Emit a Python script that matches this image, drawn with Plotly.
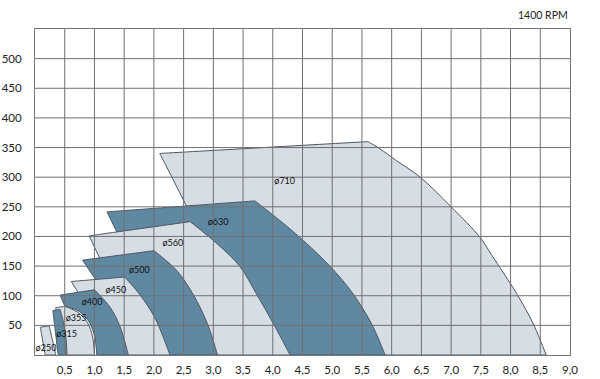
import plotly.graph_objects as go

# ---- tick labels ----
x_tickvals = [0.5, 1.0, 1.5, 2.0, 2.5, 3.0, 3.5, 4.0, 4.5, 5.0, 5.5, 6.0, 6.5, 7.0, 7.5, 8.0, 8.5, 9.0]
x_ticktext = ["0,5", "1,0", "1,5", "2,0", "2,5", "3,0", "3,5", "4,0", "4,5", "5,0", "5,5", "6,0",
              "6,5", "7,0", "7,5", "8,0", "8,5", "9,0"]
y_tickvals = [50, 100, 150, 200, 250, 300, 350, 400, 450, 500]

# ---- fan size regions (outline points: x = flow, y = pressure) ----
# order: top-left, top-right, right-hand curve down to the axis, axis back to the left side
fan_names = ["ø710", "ø630", "ø560", "ø500", "ø450", "ø400", "ø355", "ø315", "ø250"]

d710_x = [2.10, 5.60, 5.80, 6.08, 6.48, 7.00, 7.49, 7.68, 8.10, 8.38, 8.60, 3.82]
d710_y = [340, 360, 348, 328, 300, 250, 198, 169, 104, 53, 0, 0]

d630_x = [1.21, 3.70, 4.18, 4.57, 4.97, 5.33, 5.66, 5.89, 2.39]
d630_y = [241.5, 260, 222, 188, 149, 106, 53, 0, 0]

d560_x = [0.91, 2.61, 3.06, 3.45, 3.72, 4.01, 4.29, 1.87]
d560_y = [201, 225, 188, 149, 104, 53, 0, 0]

d500_x = [0.80, 2.00, 2.38, 2.65, 2.90, 3.07, 1.88]
d500_y = [160, 176, 143, 104, 53, 0, 0]

d450_x = [0.61, 1.51, 1.77, 2.02, 2.27, 1.385]
d450_y = [124, 131.5, 101, 62, 0, 0]

d400_x = [0.42, 1.00, 1.26, 1.43, 1.57, 1.04, 1.005, 0.915, 0.75, 0.50]
d400_y = [101, 110, 81, 48, 0, 0, 30, 55, 73, 83]

d355_x = [0.35, 0.50, 0.72, 0.88, 0.97, 1.00, 0.42]
d355_y = [80, 82, 72, 55, 30, 0, 0]

d315_x = [0.30, 0.42, 0.48, 0.52, 0.54, 0.39]
d315_y = [75, 77, 55, 30, 0, 0]

d250_x = [0.09, 0.24, 0.35, 0.17]
d250_y = [47, 49, 0, 0]

fan_x = [d710_x, d630_x, d560_x, d500_x, d450_x, d400_x, d355_x, d315_x, d250_x]
fan_y = [d710_y, d630_y, d560_y, d500_y, d450_y, d400_y, d355_y, d315_y, d250_y]

# label positions
label_x = [4.20, 3.08, 2.32, 1.755, 1.36, 0.96, 0.69, 0.53, 0.185]
label_y = [292, 223.6, 188, 142, 108, 89, 60.7, 35, 10]

DARK = "#5f88a3"
LIGHT = "#d6dde5"
EDGE = "#4d5660"


def outline(xs, ys):
    """Close the outline; corner vertices are doubled so the spline keeps them sharp."""
    n = len(xs)
    px, py = [], []
    for k in range(n):
        corner = k in (0, 1, n - 1) or ys[k] == 0
        reps = 2 if corner else 1
        px += [xs[k]] * reps
        py += [ys[k]] * reps
    px += [xs[0], xs[0]]
    py += [ys[0], ys[0]]
    return px, py


fig = go.Figure()

for i, (xs, ys) in enumerate(zip(fan_x, fan_y)):
    px, py = outline(xs, ys)
    fig.add_trace(go.Scatter(
        x=px, y=py,
        mode="lines", fill="toself",
        fillcolor=LIGHT if i % 2 == 0 else DARK,
        line=dict(color=EDGE, width=1, shape="spline", smoothing=1, simplify=False),
        hoverinfo="skip", showlegend=False,
    ))

# grid lines drawn above the regions
gx, gy = [], []
for v in x_tickvals[:-1]:
    gx += [v, v, None]
    gy += [0, 550, None]
for v in y_tickvals:
    gx += [0, 9, None]
    gy += [v, v, None]
fig.add_trace(go.Scatter(x=gx, y=gy, mode="lines",
                         line=dict(color="#707070", width=1),
                         hoverinfo="skip", showlegend=False))

fig.add_trace(go.Scatter(
    x=label_x, y=label_y, text=fan_names, mode="text",
    textfont=dict(family="Lato, Arial, sans-serif", size=9, color="#111111"),
    hoverinfo="skip", showlegend=False,
))

fig.add_annotation(
    text="1400 RPM", xref="paper", yref="paper", x=1.0, y=1.0,
    xanchor="right", yanchor="bottom", yshift=6, showarrow=False,
    font=dict(family="Lato, Arial, sans-serif", size=10.5, color="#222222"),
)

fig.update_layout(
    width=600, height=379, autosize=False,
    margin=dict(l=35, r=30, t=29, b=24, autoexpand=False),
    paper_bgcolor="white", plot_bgcolor="white",
    font=dict(family="Lato, Arial, sans-serif", size=12, color="#222222"),
    xaxis=dict(range=[0, 9], tickvals=x_tickvals, ticktext=x_ticktext,
               showgrid=False, zeroline=False, showline=True, mirror=True,
               linecolor="#777777", linewidth=1, ticks="outside", ticklen=4,
               tickcolor="rgba(0,0,0,0)", tickfont=dict(size=11.5),
               layer="above traces", fixedrange=True, automargin=False),
    yaxis=dict(range=[0, 550], tickvals=y_tickvals,
               showgrid=False, zeroline=False, showline=True, mirror=True,
               linecolor="#777777", linewidth=1, ticks="outside", ticklen=10,
               tickcolor="rgba(0,0,0,0)", tickfont=dict(size=11.5),
               layer="above traces", fixedrange=True, automargin=False),
)

fig.write_html("out.html", config={"displayModeBar": False, "staticPlot": True},
               post_script="document.body.style.margin='0px';")
